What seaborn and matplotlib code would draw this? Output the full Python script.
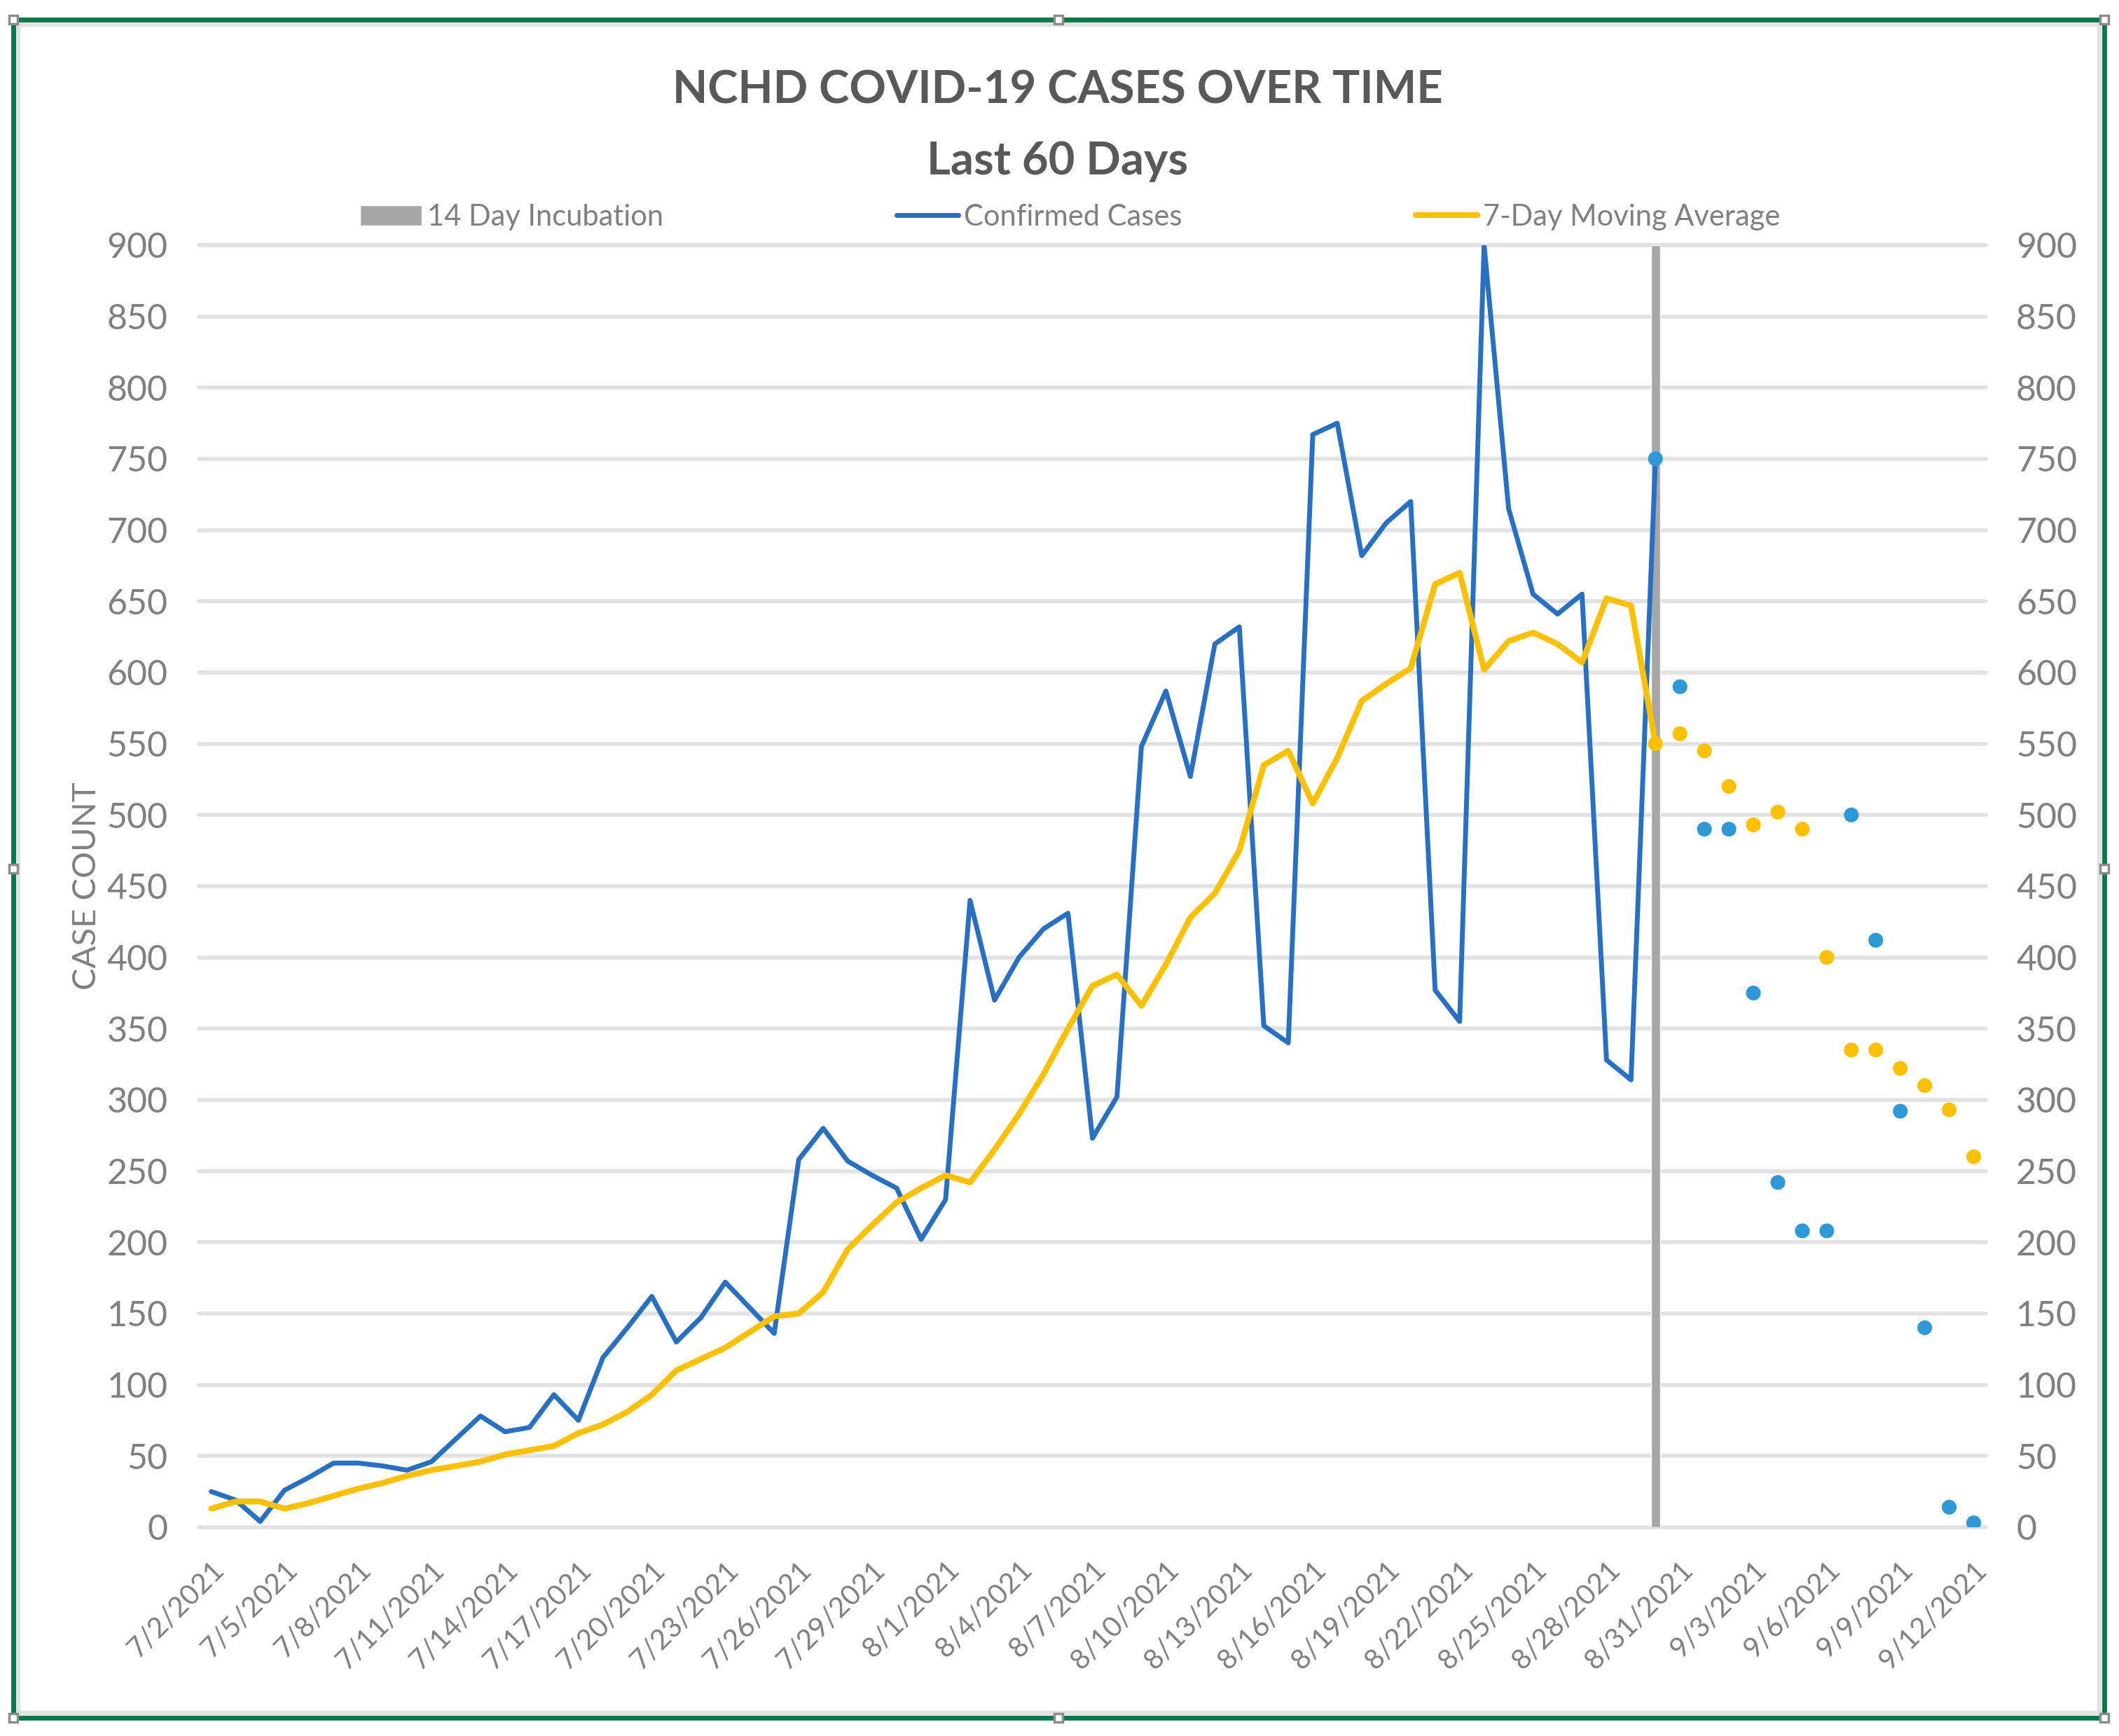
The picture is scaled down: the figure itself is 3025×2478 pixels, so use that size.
import numpy as np
import pandas as pd
import matplotlib
matplotlib.use('Agg')
import matplotlib.pyplot as plt
import seaborn as sns
from matplotlib.patches import Patch, Rectangle
from matplotlib.lines import Line2D

# categories: one per day, 7/2/2021 .. 9/12/2021
dates = pd.date_range('2021-07-02', '2021-09-12', freq='D')

# daily confirmed cases, 7/2 .. 8/30 (drawn as line)
confirmed = [25, 19, 4, 26, 35, 45, 45, 43, 40, 46,
             62, 78, 67, 70, 93, 75, 119, 140, 162, 130,
             147, 172, 154, 136, 258, 280, 257, 247, 238, 202,
             230, 440, 370, 400, 420, 431, 273, 302, 548, 587,
             527, 620, 632, 352, 340, 767, 775, 682, 705, 720,
             377, 355, 900, 715, 655, 641, 655, 328, 314, 750]

# 7-day moving average, 7/2 .. 8/30 (drawn as line)
moving_avg = [13, 18, 18, 13, 17, 22, 27, 31, 36, 40,
              43, 46, 51, 54, 57, 66, 72, 81, 93, 110,
              118, 126, 137, 148, 150, 165, 195, 212, 228, 238,
              247, 242, 265, 290, 318, 350, 380, 388, 366, 395,
              428, 445, 475, 535, 545, 508, 540, 580, 592, 603,
              662, 670, 602, 622, 628, 620, 607, 652, 647, 550]

# 8/30 .. 9/12 shown as markers only
confirmed_dots = [750, 590, 490, 490, 375, 242, 208, 208, 500, 412, 292, 140, 14, 3]
moving_avg_dots = [550, 557, 545, 520, 493, 502, 490, 400, 335, 335, 322, 310, 293, 260]

incubation_day = '2021-08-30'
incubation_value = 900

y_ticks = list(range(0, 901, 50))
tick_labels = [f'{d.month}/{d.day}/{d.year}' for d in dates]

BLUE = '#2870C4'
DOT_BLUE = '#2E98D8'
YELLOW = '#FFC000'
GRAY = '#A6A6A6'
TEXT = '#595959'
TICK = '#808080'

sns.set_style('white')
plt.rcParams['font.family'] = ['Lato', 'DejaVu Sans']

fig = plt.figure(figsize=(30.25, 24.78), dpi=100)
ax = fig.add_axes([0.0939, 0.1203, 0.8433, 0.7385])

x_line = np.arange(len(confirmed))
x_dots = np.arange(len(confirmed) - 1, len(dates))
inc_x = dates.get_loc(pd.Timestamp(incubation_day))

ax.bar(inc_x, incubation_value, width=0.36, color=GRAY, zorder=2)
sns.lineplot(x=x_line, y=confirmed, ax=ax, color=BLUE, linewidth=5, zorder=3)
sns.lineplot(x=x_line, y=moving_avg, ax=ax, color=YELLOW, linewidth=6, zorder=4)
sns.scatterplot(x=x_dots, y=moving_avg_dots, ax=ax, color=YELLOW, s=230, edgecolor='none', zorder=5)
sns.scatterplot(x=x_dots, y=confirmed_dots, ax=ax, color=DOT_BLUE, s=230, edgecolor='none', zorder=6)

ax.set_xlim(-0.5, len(dates) - 0.5)
ax.set_ylim(0, 900)
ax.set_yticks(y_ticks)
ax.set_xticks(range(0, len(dates), 3))
ax.set_xticklabels(tick_labels[::3], rotation=45, ha='right', rotation_mode='anchor')
ax.tick_params(axis='x', length=0, labelsize=29, colors=TICK, pad=30)
ax.tick_params(axis='y', length=0, labelsize=36, colors=TICK, pad=32)
ax.grid(axis='y', color='#E2E2E2', linewidth=4)
ax.grid(axis='x', visible=False)
ax.set_axisbelow(True)
for gl in ax.get_ygridlines():
    gl.set_clip_on(False)
ax.set_xlabel('')
ax.set_ylabel('CASE COUNT', fontsize=34, color=TICK)
ax.yaxis.set_label_coords(-0.0546, 0.5)
for s in ax.spines.values():
    s.set_visible(False)

ax2 = ax.twinx()
ax2.set_ylim(0, 900)
ax2.set_yticks(y_ticks)
ax2.tick_params(axis='y', length=0, labelsize=36, colors=TICK, pad=31)
ax2.grid(False)
for s in ax2.spines.values():
    s.set_visible(False)

fig.text(0.499, 0.948, 'NCHD COVID-19 CASES OVER TIME', ha='center', va='center',
         fontsize=47, fontweight='bold', color=TEXT)
fig.text(0.499, 0.907, 'Last 60 Days', ha='center', va='center',
         fontsize=47, fontweight='bold', color=TEXT)

handles = [Patch(facecolor=GRAY, label='14 Day Incubation'),
           Line2D([0], [0], color=BLUE, lw=5, label='Confirmed Cases'),
           Line2D([0], [0], color=YELLOW, lw=6, label='7-Day Moving Average')]
fig.legend(handles=handles, loc='center', bbox_to_anchor=(0.505, 0.875), ncol=3,
           frameon=False, fontsize=30, handlelength=2.1, handletextpad=0.2,
           columnspacing=8.0, labelcolor=TICK, borderpad=0)

# selected-chart frame
W, H = 3025, 2478
fig.patches.append(Rectangle((26 / W, 1 - 2445 / H), (2997 - 26) / W, (2445 - 35) / H,
                             transform=fig.transFigure, fill=False, edgecolor='#E3E3E3', lw=4.5))
fig.patches.append(Rectangle((19 / W, 1 - 2452 / H), (3004 - 19) / W, (2452 - 28) / H,
                             transform=fig.transFigure, fill=False, edgecolor='#0B7A48', lw=5))
for hx, hy in [(19, 28), (1511, 28), (3004, 28), (19, 1240), (3004, 1240),
               (19, 2452), (1511, 2452), (3004, 2452)]:
    fig.add_artist(Line2D([hx / W], [1 - hy / H], transform=fig.transFigure, marker='s',
                          ms=9, mfc='white', mec='#8C8C8C', mew=2.5, lw=0))

fig.savefig('out.png', dpi=100)
